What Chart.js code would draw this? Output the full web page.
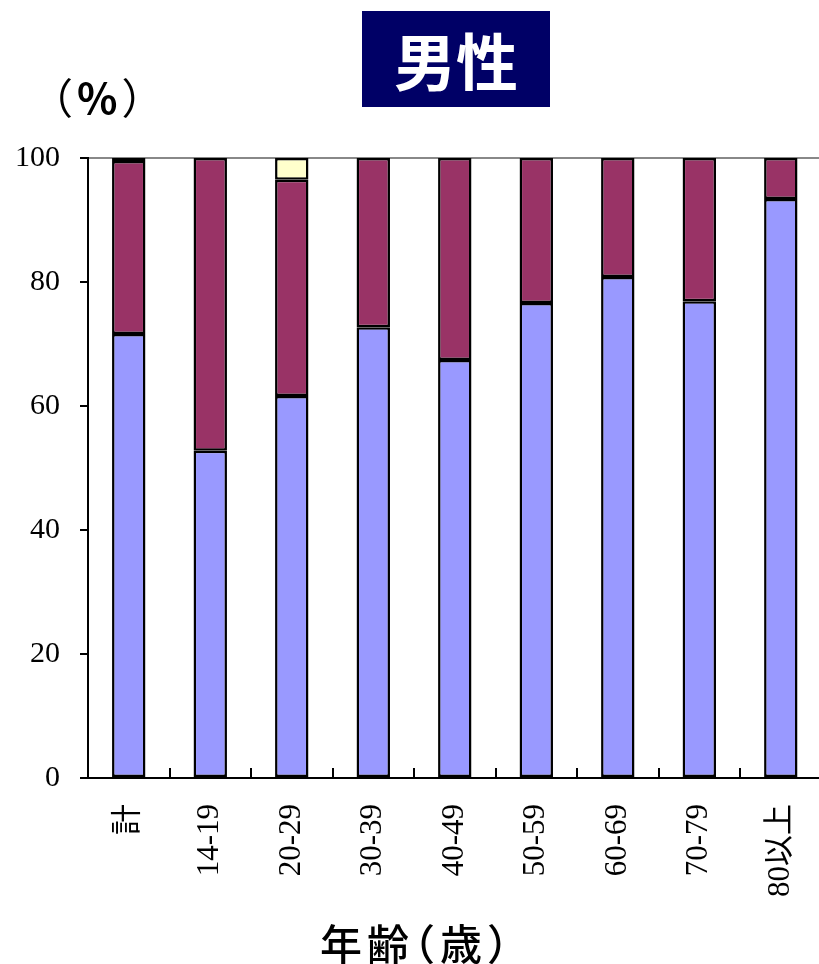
<!DOCTYPE html>
<html>
<head>
<meta charset="utf-8">
<script src="https://cdn.jsdelivr.net/npm/chart.js@4/dist/chart.umd.min.js"></script>
<style>
  body { margin: 0; background: #fff; }
  #wrap { position: relative; width: 819px; height: 964px; overflow: hidden; }
  #chart { position: absolute; left: 0; top: 0; }
  #title {
    position: absolute; left: 362px; top: 11px; width: 188px; height: 96px;
    background: #000066; color: #fff;
    font: bold 62px "Noto Sans CJK JP", sans-serif;
    display: flex; align-items: center; justify-content: center;
  }
  #unit {
    position: absolute; left: 52px; top: 75px; line-height: 42px;
    font: 42px/42px "Noto Sans CJK JP", sans-serif; color: #000;
    font-feature-settings: "halt"; letter-spacing: 4px;
  }
  #unit b { font-weight: bold; font-size: 42px; }
  #xtitle {
    position: absolute; left: 0; width: 819px; top: 921px; text-align: center;
    padding-left: 7px;
    font: 500 42px/42px "Noto Sans CJK JP", sans-serif; color: #000;
    font-feature-settings: "halt"; letter-spacing: 5px;
  }
</style>
</head>
<body>
<div id="wrap">
  <canvas id="chart" width="836" height="964"></canvas>
  <div id="title">男性</div>
  <div id="unit">（<b>%</b>）</div>
  <div id="xtitle">年齢（歳）</div>
</div>
<script>
const categories = ['計', '14-19', '20-29', '30-39', '40-49', '50-59', '60-69', '70-79', '80以上'];
const blueValues = [71.6, 52.8, 61.6, 72.7, 67.4, 76.6, 80.8, 76.9, 93.4];
const redValues = [27.9, 47.2, 34.9, 27.3, 32.6, 23.4, 19.2, 23.1, 6.6];
const yellowValues = [0.5, null, 3.5, null, null, null, null, null, null];
const yTicks = [0, 20, 40, 60, 80, 100];

// short tick marks pointing up into the plot, between categories
const innerTicks = {
  id: 'innerTicks',
  afterDatasetsDraw(chart) {
    const x = chart.scales.x;
    const ctx = chart.ctx;
    const bottom = chart.chartArea.bottom;
    ctx.save();
    ctx.strokeStyle = '#000';
    ctx.lineWidth = 2;
    for (let i = 1; i < categories.length; i++) {
      const px = Math.round((x.getPixelForValue(i - 1) + x.getPixelForValue(i)) / 2);
      ctx.beginPath();
      ctx.moveTo(px, bottom + 1);
      ctx.lineTo(px, bottom - 10);
      ctx.stroke();
    }
    ctx.restore();
  }
};

const barStyle = {
  borderColor: '#000',
  borderWidth: 2.5,
  borderSkipped: false,
  barPercentage: 0.41,
  categoryPercentage: 1
};

new Chart(document.getElementById('chart').getContext('2d'), {
  type: 'bar',
  data: {
    labels: categories,
    datasets: [
      Object.assign({ label: 'a', data: blueValues, backgroundColor: '#9999FF' }, barStyle),
      Object.assign({ label: 'b', data: redValues, backgroundColor: '#993366' }, barStyle),
      Object.assign({ label: 'c', data: yellowValues, backgroundColor: '#FFFFCC' }, barStyle)
    ]
  },
  options: {
    responsive: false,
    animation: false,
    devicePixelRatio: 1,
    layout: { padding: { top: 158, left: 0, right: 0, bottom: 0 } },
    plugins: { legend: { display: false }, tooltip: { enabled: false } },
    scales: {
      x: {
        stacked: true,
        afterFit(scale) { scale.height = 186; },
        grid: { display: false },
        border: { color: '#000', width: 2 },
        ticks: {
          color: '#000',
          minRotation: 90,
          maxRotation: 90,
          padding: 18,
          font: { family: '"Liberation Serif", "Noto Sans CJK JP", serif', size: 31 }
        }
      },
      y: {
        stacked: true,
        min: 0,
        max: 100,
        afterFit(scale) { scale.width = 88; },
        afterBuildTicks(scale) { scale.ticks = yTicks.map(v => ({ value: v })); },
        grid: {
          color: ctx => (ctx.tick && ctx.tick.value === 100 ? '#888' : 'rgba(0,0,0,0)'),
          tickColor: '#000',
          tickLength: 8,
          lineWidth: 2
        },
        border: { color: '#000', width: 2 },
        ticks: {
          color: '#000',
          padding: 20,
          font: { family: '"Liberation Serif", serif', size: 30 }
        }
      }
    }
  },
  plugins: [innerTicks]
});
</script>
</body>
</html>
